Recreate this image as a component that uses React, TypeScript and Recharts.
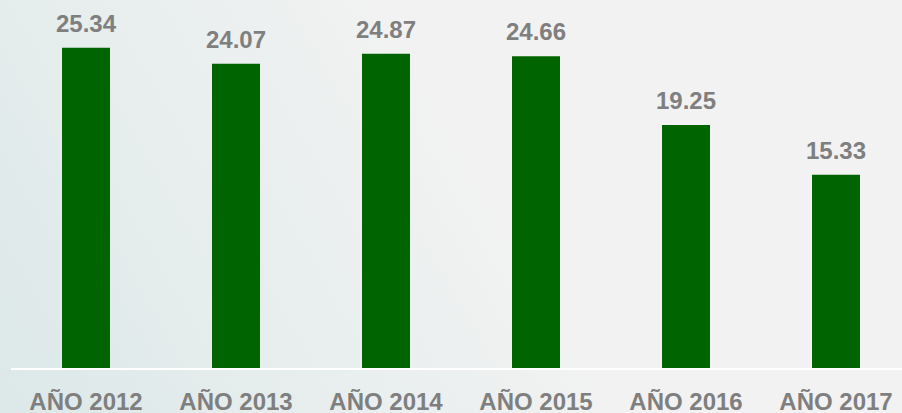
import React from 'react';
import { BarChart, Bar, XAxis, YAxis, LabelList } from 'recharts';

const years = ['AÑO 2012', 'AÑO 2013', 'AÑO 2014', 'AÑO 2015', 'AÑO 2016', 'AÑO 2017'];
const values = [25.34, 24.07, 24.87, 24.66, 19.25, 15.33];

const data = years.map((year, i) => ({ year, value: values[i] }));

const FONT = '"Liberation Sans", Arial, sans-serif';

export default function App() {
  return (
    <div
      style={{
        position: 'absolute',
        top: 0,
        left: 0,
        width: 902,
        height: 413,
        overflow: 'hidden',
        background: 'linear-gradient(60deg, #dce8e8 0%, #e8eeee 30%, #f2f2f2 55%, #f2f2f2 100%)',
      }}
    >
      <BarChart
        width={911}
        height={413}
        data={data}
        margin={{ top: 14, right: 0, bottom: 0, left: 11 }}
        barCategoryGap="34%"
      >
        <XAxis
          dataKey="year"
          height={44}
          axisLine={{ stroke: '#ffffff', strokeWidth: 2 }}
          tickLine={false}
          tickMargin={18}
          interval={0}
          tick={{ fill: '#7f7f7f', fontSize: 24, fontWeight: 'bold', fontFamily: FONT }}
        />
        <YAxis hide domain={[0, 28]} />
        <Bar dataKey="value" fill="#006400" isAnimationActive={false}>
          <LabelList
            dataKey="value"
            position="top"
            offset={16}
            formatter={(v: any) => Number(v).toFixed(2)}
            style={{ fill: '#7f7f7f', fontSize: 24, fontWeight: 'bold', fontFamily: FONT }}
          />
        </Bar>
      </BarChart>
    </div>
  );
}
